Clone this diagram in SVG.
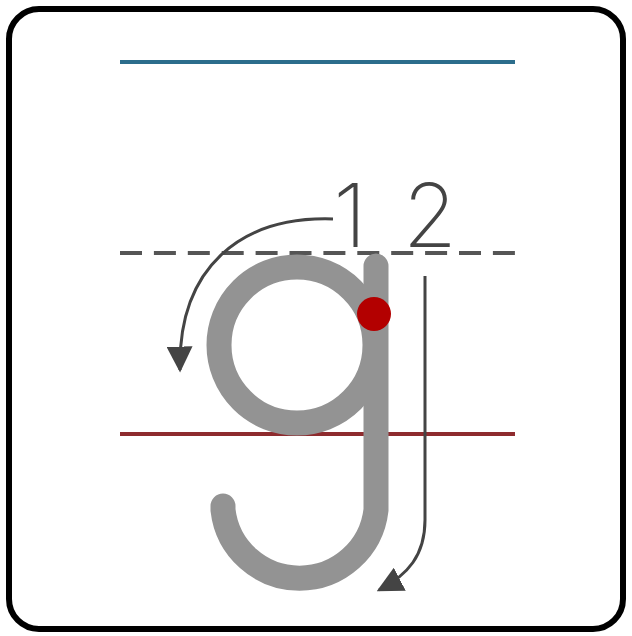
<svg xmlns="http://www.w3.org/2000/svg" width="632" height="636" viewBox="0 0 632 636">
<defs>
<style>
.guide{fill:none;stroke-width:4}
.letter{fill:none;stroke:#939393;stroke-width:25;stroke-linecap:round}
.arrow{fill:none;stroke:#444;stroke-width:3}
.num{font-family:Inter,"Liberation Sans","DejaVu Sans",sans-serif;font-size:88px;fill:#444;font-weight:200}
</style>
<marker id="ah2" viewBox="0 0 10 10" refX="9" refY="5" markerWidth="26" markerHeight="26" markerUnits="userSpaceOnUse" orient="auto">
<path d="M0,0 L10,5 L0,10 z" fill="#444"/>
</marker>
</defs>
<rect width="632" height="636" fill="#fff"/>
<rect id="frame" x="9" y="9" width="614" height="620" rx="30" fill="none" stroke="#000" stroke-width="6"/>
<g id="guides">
<line class="guide" x1="120" y1="62" x2="515" y2="62" stroke="#2c6d8c"/>
<line class="guide" x1="120" y1="253" x2="515" y2="253" stroke="#555" stroke-dasharray="22,11.9"/>
<line class="guide" x1="120" y1="434" x2="515" y2="434" stroke="#8e2b2e"/>
</g>
<g id="letter-g">
<circle class="letter" cx="297" cy="345" r="78"/>
<path class="letter" d="M376,266 L376,510 A77,77 0 0 1 223,510 L223,506"/>
<circle cx="374" cy="314" r="17" fill="#b30000"/>
</g>
<g id="connectors">
<path class="arrow" marker-end="url(#ah2)" d="M333,219 C240,216 178,268 180,370"/>
<path class="arrow" marker-end="url(#ah2)" d="M425,276 L425,520 C425,555 408,575 379,590"/>
</g>
<g id="labels">
<text class="num" x="350" y="247" text-anchor="middle">1</text>
<text class="num" x="430" y="247" text-anchor="middle">2</text>
</g>
</svg>
